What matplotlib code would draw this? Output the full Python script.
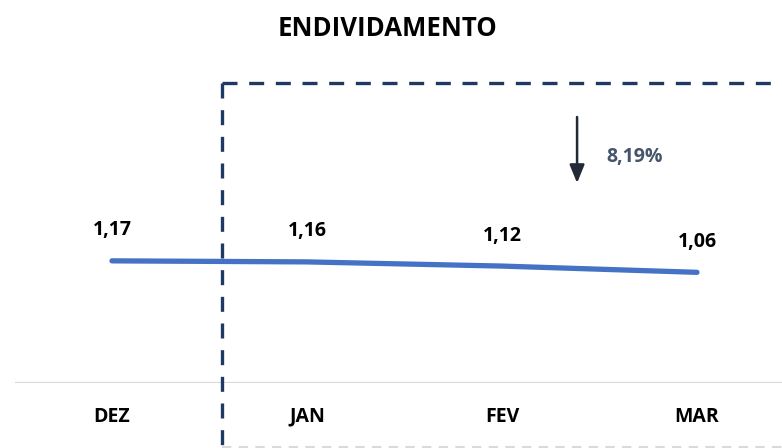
import matplotlib.pyplot as plt
from matplotlib.lines import Line2D
import matplotlib.transforms as mtransforms

plt.rcParams['font.family'] = ['Open Sans', 'DejaVu Sans']

months = ['DEZ', 'JAN', 'FEV', 'MAR']
values = [1.17, 1.16, 1.12, 1.06]
value_labels = ['1,17', '1,16', '1,12', '1,06']
change_label = '8,19%'

W, H = 782, 448
fig = plt.figure(figsize=(W / 100, H / 100), dpi=100)
ax = fig.add_axes([14.5 / W, 65 / H, 780 / W, 261 / H])

x = [i + 0.5 for i in range(len(months))]
ax.plot(x, values, color='#4472C4', lw=3.8, solid_capstyle='round', zorder=3)
for xi, v, lab in zip(x, values, value_labels):
    ax.annotate(lab, (xi, v), xytext=(0, 22), textcoords='offset points',
                ha='center', va='center', fontsize=14, fontweight='bold', color='black')

ax.set_xlim(0, 4)
ax.set_ylim(0, 2.5)
ax.axhline(0, color='#D9D9D9', lw=1.6, zorder=1)
for s in ax.spines.values():
    s.set_visible(False)
ax.set_yticks([])
ax.set_xticks(x)
ax.set_xticklabels(months, fontsize=14, fontweight='bold')
ax.tick_params(axis='x', length=0, pad=17)

# dashed box around the current-year months
trans = mtransforms.blended_transform_factory(ax.transData, fig.transFigure)
bx = 1.065
top = 1 - 83 / H
bot = 1 - 447 / H
dash = dict(color='#1F3864', lw=2.4, ls=(0, (4.5, 3.5)), transform=trans, clip_on=False)
fig.add_artist(Line2D([bx, bx], [top, bot], **dash))
fig.add_artist(Line2D([bx, 4.2], [top, top], **dash))
fig.add_artist(Line2D([bx, 4.2], [bot, bot], color='#DADADA', lw=1.5,
                      ls=(0, (4.5, 3.5)), transform=trans, clip_on=False))

# variation arrow
ax_x = 2.885
ax.annotate('', xy=(ax_x, 1 - 183 / H), xytext=(ax_x, 1 - 117 / H),
            xycoords=trans, textcoords=trans,
            arrowprops=dict(arrowstyle='-|>,head_length=1.1,head_width=0.45',
                            color='#222A35', lw=1.8, shrinkA=0, shrinkB=0))
ax.text(3.035, 1 - 157 / H, change_label, transform=trans, ha='left', va='center',
        fontsize=14, fontweight='bold', color='#44546A')

fig.text(0.496, 1 - 28 / H, 'ENDIVIDAMENTO', ha='center', va='center',
         fontsize=18.5, fontweight='bold')

fig.savefig('out.png', dpi=100)
